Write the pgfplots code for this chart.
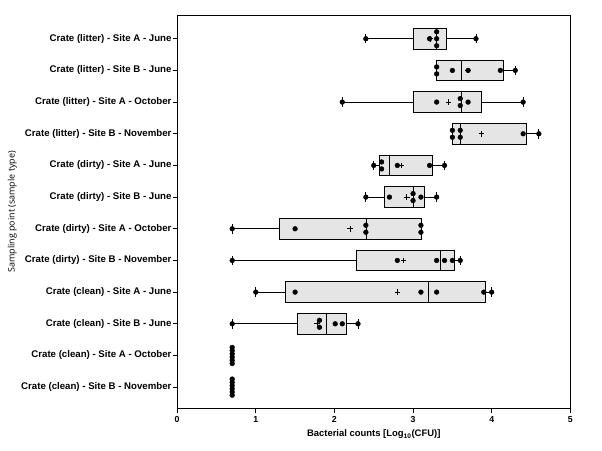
\documentclass[border=0pt]{standalone}
\usepackage{fontspec}
\setmainfont{Liberation Sans}
\newfontfamily\ylabfont{Open Sans}
\usepackage{pgfplots}
\pgfplotsset{compat=1.18}
\usepgfplotslibrary{statistics}

\newcommand{\bx}[6]{\addplot[black, line width=0.8pt, fill=black!10,
  boxplot prepared={draw position=#1, lower whisker=#2, lower quartile=#3,
  median=#4, upper quartile=#5, upper whisker=#6, box extend=0.66, whisker extend=0.3}]
  coordinates {};}

\begin{document}
\begin{tikzpicture}
\begin{axis}[
  scale only axis, width=393.5bp, height=394bp,
  xmin=0, xmax=5, ymin=0.25, ymax=12.68, y dir=reverse,
  xtick={0,1,2,3,4,5}, ytick={1,2,3,4,5,6,7,8,9,10,11,12},
  yticklabels={
    {Crate (litter) - Site A - June},
    {Crate (litter) - Site B - June},
    {Crate (litter) - Site A - October},
    {Crate (litter) - Site B - November},
    {Crate (dirty) - Site A - June},
    {Crate (dirty) - Site B - June},
    {Crate (dirty) - Site A - October},
    {Crate (dirty) - Site B - November},
    {Crate (clean) - Site A - June},
    {Crate (clean) - Site B - June},
    {Crate (clean) - Site A - October},
    {Crate (clean) - Site B - November}},
  tick align=outside, tick pos=left, major tick length=4.5bp,
  axis line style={line width=0.8pt},
  every tick/.style={black, line width=0.8pt},
  /pgf/number format/assume math mode=true,
  yticklabel style={font=\bfseries\fontsize{9.7}{11}\selectfont, inner sep=1bp},
  xticklabel style={font=\bfseries\fontsize{8.8}{10}\selectfont},
  xlabel={Bacterial counts [Log\textsubscript{10}(CFU)]},
  ylabel={Sampling point (sample type)},
  every axis x label/.style={at={(axis description cs:0.5,0)}, anchor=base, yshift=-28bp,
    font=\bfseries\fontsize{9.5}{11}\selectfont},
  every axis y label/.style={at={(axis description cs:0,0.5)}, xshift=-165bp, rotate=90,
    anchor=center, font=\ylabfont\fontsize{9}{11}\selectfont},
  clip=false,
]
\coordinate (BL) at (axis description cs:0,0);
\coordinate (TR) at (axis description cs:1,1);

\bx{1}{2.40}{3.01}{3.30}{3.43}{3.80}
\bx{2}{3.30}{3.30}{3.61}{4.15}{4.30}
\bx{3}{2.10}{3.01}{3.61}{3.87}{4.40}
\bx{4}{3.50}{3.50}{3.60}{4.44}{4.60}
\bx{5}{2.50}{2.57}{2.70}{3.25}{3.40}
\bx{6}{2.40}{2.63}{3.01}{3.15}{3.30}
\bx{7}{0.70}{1.30}{2.41}{3.10}{3.10}
\bx{8}{0.70}{2.28}{3.35}{3.53}{3.60}
\bx{9}{1.00}{1.38}{3.20}{3.92}{4.00}
\bx{10}{0.70}{1.53}{1.90}{2.15}{2.31}

% means
\addplot[only marks, mark=+, mark size=2.8pt, line width=0.7pt, black] coordinates {
(3.22,1) (3.70,2) (3.45,3) (3.87,4) (2.85,5) (2.92,6) (2.20,7) (2.88,8) (2.80,9) (1.78,10)};

% individual values
\addplot[only marks, mark=*, mark size=2.4pt, black] coordinates {
(2.40,1) (3.21,1) (3.30,0.78) (3.30,1) (3.30,1.22) (3.80,1)
(3.30,1.89) (3.30,2.11) (3.50,2) (3.70,2) (4.11,2) (4.30,2)
(2.10,3) (3.30,3) (3.60,2.89) (3.60,3.11) (3.70,3) (4.40,3)
(3.50,3.89) (3.50,4.11) (3.60,3.89) (3.60,4.11) (4.40,4) (4.60,4)
(2.50,5) (2.60,4.89) (2.60,5.11) (2.80,5) (3.21,5) (3.40,5)
(2.40,6) (2.70,6) (3.00,5.89) (3.00,6.11) (3.10,6) (3.30,6)
(0.70,7) (1.50,7) (2.40,6.89) (2.40,7.11) (3.10,6.89) (3.10,7.11)
(0.70,8) (2.80,8) (3.30,8) (3.40,8) (3.50,8) (3.60,8)
(1.00,9) (1.50,9) (3.10,9) (3.30,9) (3.90,9) (4.00,9)
(0.70,10) (1.81,9.89) (1.81,10.11) (2.01,10) (2.10,10) (2.30,10)
(0.70,10.745) (0.70,10.847) (0.70,10.949) (0.70,11.051) (0.70,11.153) (0.70,11.255)
(0.70,11.745) (0.70,11.847) (0.70,11.949) (0.70,12.051) (0.70,12.153) (0.70,12.255)
};
\end{axis}
\pgfresetboundingbox
\path[use as bounding box] ([xshift=-177.3bp,yshift=-42bp]BL) rectangle ([xshift=31.7bp,yshift=15bp]TR);
\end{tikzpicture}
\end{document}
